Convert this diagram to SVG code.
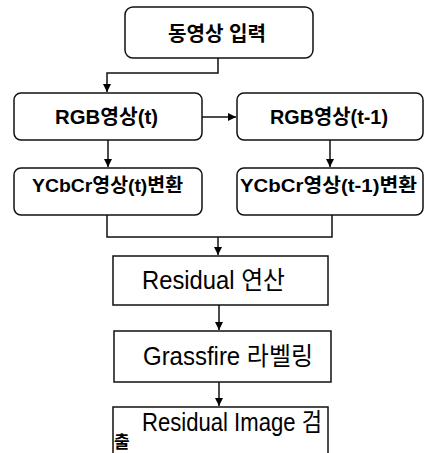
<svg xmlns="http://www.w3.org/2000/svg" width="425" height="453" viewBox="0 0 425 453">
<defs>
<marker id="ah" viewBox="0 0 8 8" refX="8" refY="4" markerWidth="8" markerHeight="8" markerUnits="userSpaceOnUse" orient="auto">
<path d="M0,0 L8,4 L0,8 Z" fill="#000"/>
</marker>
<style>
.rb{fill:#fff;stroke:#111;stroke-width:1.5}
.sb{fill:#fff;stroke:#111;stroke-width:1.5}
.c{fill:none;stroke:#111;stroke-width:1.5}
.tb{font-family:"Liberation Sans","Noto Sans CJK KR",sans-serif;font-weight:bold;fill:#000}
.tn{font-family:"Liberation Sans","Noto Sans CJK KR",sans-serif;fill:#000}
</style>
</defs>
<rect width="425" height="453" fill="#fff"/>
<g id="connectors">
<path class="c" d="M218,58 V73 H107 V92" marker-end="url(#ah)"/>
<path class="c" d="M202,117 H236" marker-end="url(#ah)"/>
<path class="c" d="M108,140 V167" marker-end="url(#ah)"/>
<path class="c" d="M330,140 V167" marker-end="url(#ah)"/>
<path class="c" d="M107,215 V237 H332 V215"/>
<path class="c" d="M218,237 V255" marker-end="url(#ah)"/>
<path class="c" d="M219,305 V330" marker-end="url(#ah)"/>
<path class="c" d="M219,382 V406" marker-end="url(#ah)"/>
</g>
<g id="n1">
<rect class="rb" x="125" y="7" width="188" height="51" rx="8"/>
<text class="tb" x="168" y="41" font-size="20" textLength="98" lengthAdjust="spacingAndGlyphs">동영상 입력</text>
</g>
<g id="n2">
<rect class="rb" x="14" y="93" width="188" height="47" rx="7"/>
<text class="tb" x="55" y="124" font-size="20" textLength="103" lengthAdjust="spacingAndGlyphs">RGB영상(t)</text>
</g>
<g id="n3">
<rect class="rb" x="237" y="93" width="186" height="47" rx="7"/>
<text class="tb" x="270" y="124" font-size="20" textLength="118" lengthAdjust="spacingAndGlyphs">RGB영상(t-1)</text>
</g>
<g id="n4">
<rect class="rb" x="14" y="168" width="188" height="47" rx="7"/>
<text class="tb" x="32" y="192" font-size="19" textLength="151" lengthAdjust="spacingAndGlyphs">YCbCr영상(t)변환</text>
</g>
<g id="n5">
<rect class="rb" x="237" y="168" width="186" height="47" rx="7"/>
<text class="tb" x="240" y="192" font-size="19" textLength="177" lengthAdjust="spacingAndGlyphs">YCbCr영상(t-1)변환</text>
</g>
<g id="n6">
<rect class="sb" x="113" y="256" width="215" height="49"/>
<text class="tn" x="142" y="289" font-size="25" textLength="143" lengthAdjust="spacingAndGlyphs">Residual 연산</text>
</g>
<g id="n7">
<rect class="sb" x="114" y="331" width="217" height="51"/>
<text class="tn" x="143" y="365" font-size="25" textLength="170" lengthAdjust="spacingAndGlyphs">Grassfire 라벨링</text>
</g>
<g id="n8">
<rect class="sb" x="113" y="407" width="215" height="60"/>
<text class="tn" x="142" y="431" font-size="25" textLength="180" lengthAdjust="spacingAndGlyphs">Residual Image 검</text>
<text class="tb" x="114" y="448" font-size="17">출</text>
</g>
</svg>
